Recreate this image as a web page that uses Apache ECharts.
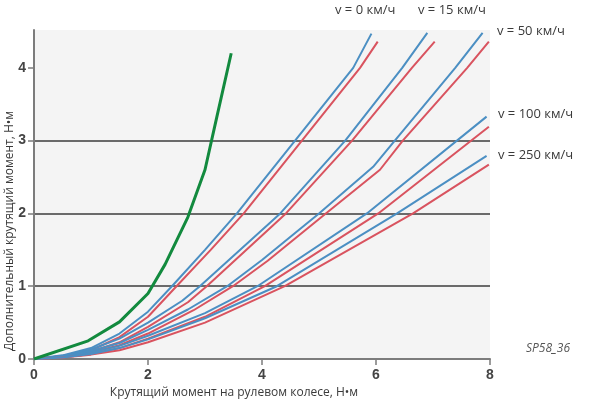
<!DOCTYPE html>
<html>
<head>
<meta charset="utf-8">
<script src="https://cdn.jsdelivr.net/npm/echarts@6/dist/echarts.min.js"></script>
<style>
html,body{margin:0;padding:0;background:#fff;}
#chart{width:600px;height:403px;}
</style>
</head>
<body>
<div id="chart"></div>
<script>
// ---- data (x: steering wheel torque, y: additional torque) ----
const xTicks = [0, 2, 4, 6, 8];
const yTicks = [0, 1, 2, 3, 4];

const greenCurve = [[0,0],[0.95,0.25],[1.5,0.51],[2.0,0.9],[2.3,1.3],[2.7,1.95],[3.0,2.6],[3.2,3.3],[3.46,4.2]];

const v0Blue  = [[0,0],[0.5,0.05],[1,0.15],[1.5,0.35],[2,0.65],[2.42,1.0],[3,1.5],[3.56,2],[4.58,3],[5.6,4],[5.92,4.47]];
const v0Red   = [[0,0],[0.5,0.04],[1,0.12],[1.5,0.3],[2,0.58],[2.5,1.0],[3.1,1.5],[3.68,2],[4.7,3],[5.72,4],[6.03,4.36]];

const v15Blue = [[0,0],[0.5,0.04],[1,0.13],[1.5,0.28],[2,0.5],[2.6,0.8],[2.91,1],[4.32,2],[5.46,3],[6.46,4],[6.9,4.48]];
const v15Red  = [[0,0],[0.5,0.03],[1,0.1],[1.5,0.23],[2,0.44],[2.7,0.78],[3.03,1],[4.42,2],[5.58,3],[6.63,4],[7.03,4.36]];

const v50Blue = [[0,0],[0.5,0.04],[1,0.11],[1.5,0.22],[2,0.4],[2.7,0.68],[3.39,1],[4.0,1.36],[5.0,2],[5.95,2.64],[6.33,3],[7.39,4],[7.87,4.48]];
const v50Red  = [[0,0],[0.5,0.03],[1,0.09],[1.5,0.19],[2,0.35],[2.8,0.67],[3.49,1],[4.1,1.35],[5.12,2],[6.07,2.6],[6.47,3],[7.6,4],[7.98,4.36]];

const v100Blue = [[0,0],[0.5,0.03],[1,0.09],[1.5,0.18],[2,0.32],[3,0.63],[3.92,1],[5.84,2],[7.94,3.33]];
const v100Red  = [[0,0],[0.5,0.02],[1,0.07],[1.5,0.15],[2,0.28],[3,0.58],[4.05,1],[6.04,2],[7.98,3.19]];

const v250Blue = [[0,0],[0.5,0.02],[1,0.07],[1.5,0.15],[2,0.27],[3,0.56],[4.26,1],[6.37,2],[7.94,2.79]];
const v250Red  = [[0,0],[0.5,0.02],[1,0.06],[1.5,0.12],[2,0.23],[3,0.5],[4.4,1],[6.65,2],[7.98,2.67]];

const speedLabels = ['v = 0 км/ч', 'v = 15 км/ч', 'v = 50 км/ч', 'v = 100 км/ч', 'v = 250 км/ч'];
const xName = 'Крутящий момент на рулевом колесе, Н•м';
const yName = 'Дополнительный крутящий момент, Н•м';
const codeLabel = 'SP58_36';

// ---- styles ----
const BLUE = '#4b8fc3';
const RED = '#d9535f';
const GREEN = '#128a3e';

function lineSeries(data, color, width) {
  return {
    type: 'line', data: data, symbol: 'none', smooth: false,
    lineStyle: { color: color, width: width }, z: 3, animation: false
  };
}

const chart = echarts.init(document.getElementById('chart'));
const labelStyle = { fill: '#3a3a3a', font: '13px "Open Sans", sans-serif' };

chart.setOption({
  animation: false,
  grid: { left: 34, right: 110, top: 30, bottom: 44, show: true, backgroundColor: '#f4f4f4', borderWidth: 0, containLabel: false, outerBoundsMode: 'none' },
  xAxis: {
    type: 'value', min: xTicks[0], max: xTicks[xTicks.length - 1], interval: 2,
    axisLine: { show: true, lineStyle: { color: '#7c7c7c', width: 2 } },
    axisTick: { show: true, inside: false, length: 6, lineStyle: { color: '#7c7c7c', width: 1.5 } },
    axisLabel: { color: '#444', fontSize: 14, fontWeight: 'bold', fontFamily: 'Liberation Sans, Arial, sans-serif', margin: 9 },
    splitLine: { show: false },
    name: xName, nameLocation: 'middle', nameGap: 25,
    nameTextStyle: { color: '#3a3a3a', fontSize: 12, fontFamily: '"Open Sans", sans-serif', padding: [0, 56, 0, 0] }
  },
  yAxis: {
    type: 'value', min: 0, max: 4.52, interval: 1,
    axisLine: { show: true, lineStyle: { color: '#7c7c7c', width: 2 } },
    axisTick: { show: true, inside: false, length: 6, customValues: yTicks, lineStyle: { color: '#7c7c7c', width: 1.5 } },
    axisLabel: { color: '#444', fontSize: 14, fontWeight: 'bold', fontFamily: 'Liberation Sans, Arial, sans-serif', margin: 8, customValues: yTicks },
    splitLine: { show: true, showMaxLine: false, lineStyle: { color: '#6a6a6a', width: 2 } }
  },
  series: [
    lineSeries(v0Red, RED, 2), lineSeries(v0Blue, BLUE, 2),
    lineSeries(v15Red, RED, 2), lineSeries(v15Blue, BLUE, 2),
    lineSeries(v50Red, RED, 2), lineSeries(v50Blue, BLUE, 2),
    lineSeries(v100Red, RED, 2), lineSeries(v100Blue, BLUE, 2),
    lineSeries(v250Red, RED, 2), lineSeries(v250Blue, BLUE, 2),
    lineSeries(greenCurve, GREEN, 3)
  ],
  graphic: [
    { type: 'text', x: 10, y: 231, rotation: Math.PI / 2,
      style: { text: yName, fill: '#3a3a3a', font: '12px "Open Sans", sans-serif', align: 'center', verticalAlign: 'middle' } },
    { type: 'text', left: 335, top: 4, style: Object.assign({ text: speedLabels[0] }, labelStyle) },
    { type: 'text', left: 418, top: 4, style: Object.assign({ text: speedLabels[1] }, labelStyle) },
    { type: 'text', left: 497, top: 25, style: Object.assign({ text: speedLabels[2] }, labelStyle) },
    { type: 'text', left: 498, top: 108, style: Object.assign({ text: speedLabels[3] }, labelStyle) },
    { type: 'text', left: 498, top: 149, style: Object.assign({ text: speedLabels[4] }, labelStyle) },
    { type: 'text', left: 526, top: 343, style: { text: codeLabel, fill: '#555', font: 'italic 12px "Open Sans", sans-serif' } }
  ]
});
</script>
</body>
</html>
